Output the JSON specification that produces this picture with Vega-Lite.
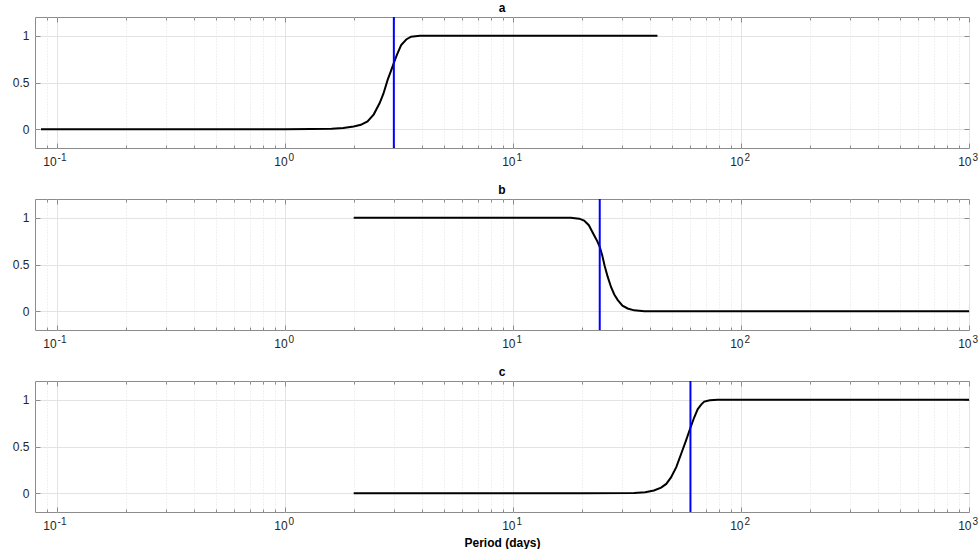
{
  "$schema": "https://vega.github.io/schema/vega-lite/v6.json",
  "padding": {"left": 11, "top": 1, "right": 0, "bottom": 0},
  "background": "white",
  "datasets": {
    "curves": [
      {"panel": "a", "period": 0.085, "value": 0},
      {"panel": "a", "period": 0.5, "value": 0},
      {"panel": "a", "period": 1.0, "value": 0},
      {"panel": "a", "period": 1.3, "value": 0.002},
      {"panel": "a", "period": 1.6, "value": 0.006},
      {"panel": "a", "period": 1.8, "value": 0.013},
      {"panel": "a", "period": 2.0, "value": 0.03},
      {"panel": "a", "period": 2.15, "value": 0.048},
      {"panel": "a", "period": 2.3, "value": 0.085},
      {"panel": "a", "period": 2.45, "value": 0.16},
      {"panel": "a", "period": 2.6, "value": 0.28},
      {"panel": "a", "period": 2.7, "value": 0.38},
      {"panel": "a", "period": 2.82, "value": 0.53},
      {"panel": "a", "period": 2.92, "value": 0.63},
      {"panel": "a", "period": 3.0, "value": 0.71},
      {"panel": "a", "period": 3.1, "value": 0.8},
      {"panel": "a", "period": 3.23, "value": 0.9},
      {"panel": "a", "period": 3.4, "value": 0.96},
      {"panel": "a", "period": 3.57, "value": 0.99},
      {"panel": "a", "period": 3.9, "value": 1.0},
      {"panel": "a", "period": 4.5, "value": 1.0},
      {"panel": "a", "period": 43, "value": 1.0},
      {"panel": "b", "period": 2.0, "value": 1},
      {"panel": "b", "period": 10, "value": 1},
      {"panel": "b", "period": 17.9, "value": 1},
      {"panel": "b", "period": 19.5, "value": 0.99},
      {"panel": "b", "period": 20.5, "value": 0.97},
      {"panel": "b", "period": 21.5, "value": 0.92},
      {"panel": "b", "period": 22.7, "value": 0.81},
      {"panel": "b", "period": 23.4, "value": 0.75},
      {"panel": "b", "period": 24.0, "value": 0.69},
      {"panel": "b", "period": 24.6, "value": 0.6},
      {"panel": "b", "period": 25.2, "value": 0.49},
      {"panel": "b", "period": 26.0, "value": 0.37},
      {"panel": "b", "period": 26.9, "value": 0.26},
      {"panel": "b", "period": 27.8, "value": 0.18},
      {"panel": "b", "period": 28.8, "value": 0.12},
      {"panel": "b", "period": 30.2, "value": 0.06},
      {"panel": "b", "period": 31.8, "value": 0.03},
      {"panel": "b", "period": 34, "value": 0.01},
      {"panel": "b", "period": 37.7, "value": 0},
      {"panel": "b", "period": 100, "value": 0},
      {"panel": "b", "period": 1000, "value": 0},
      {"panel": "c", "period": 2.0, "value": 0},
      {"panel": "c", "period": 20, "value": 0},
      {"panel": "c", "period": 34, "value": 0.003},
      {"panel": "c", "period": 38, "value": 0.01},
      {"panel": "c", "period": 41.5, "value": 0.03},
      {"panel": "c", "period": 44.6, "value": 0.06},
      {"panel": "c", "period": 47, "value": 0.1},
      {"panel": "c", "period": 49.3, "value": 0.17},
      {"panel": "c", "period": 52, "value": 0.28},
      {"panel": "c", "period": 54.6, "value": 0.42},
      {"panel": "c", "period": 57.3, "value": 0.56},
      {"panel": "c", "period": 60, "value": 0.7},
      {"panel": "c", "period": 62.3, "value": 0.81},
      {"panel": "c", "period": 64.6, "value": 0.9},
      {"panel": "c", "period": 67, "value": 0.95},
      {"panel": "c", "period": 69, "value": 0.98},
      {"panel": "c", "period": 73, "value": 0.995},
      {"panel": "c", "period": 79, "value": 1},
      {"panel": "c", "period": 200, "value": 1},
      {"panel": "c", "period": 1000, "value": 1}
    ],
    "thresholds": [
      {"panel": "a", "period": 3.0},
      {"panel": "b", "period": 24.0},
      {"panel": "c", "period": 60.0}
    ]
  },
  "vconcat": [
    {
      "width": 934, "height": 131,
      "title": {"text": "a"},
      "layer": [
        {
          "data": {"name": "curves"},
          "transform": [{"filter": "datum.panel === 'a'"}],
          "mark": {"type": "line", "color": "black", "strokeWidth": 2},
          "encoding": {
            "x": {"field": "period", "type": "quantitative", "scale": {"type": "log", "domain": [0.08, 1000], "nice": false},
              "axis": {"orient": "bottom", "title": null, "values": [0.09,0.1,0.2,0.3,0.4,0.5,0.6,0.7,0.8,0.9,1,2,3,4,5,6,7,8,9,10,20,30,40,50,60,70,80,90,100,200,300,400,500,600,700,800,900,1000],
                "labelExpr": "(datum.value==0.1||datum.value==1||datum.value==10||datum.value==100||datum.value==1000)?'10':''",
                "labelAlign": "right", "labelFontSize": 12, "labelBaseline": "top", "labelPadding": 13,
                "labelOffset": {"condition": {"test": "datum.value == 0.1", "value": -1}, "value": 2},
                "grid": true,
                "gridDash": {"condition": {"test": "abs(log(datum.value)/LN10 - round(log(datum.value)/LN10)) < 0.001", "value": []}, "value": [1, 2]},
                "tickSize": {"condition": {"test": "abs(log(datum.value)/LN10 - round(log(datum.value)/LN10)) < 0.001", "value": -5}, "value": -3}}},
            "y": {"field": "value", "type": "quantitative", "scale": {"domain": [-0.2, 1.2], "nice": false},
              "axis": {"orient": "left", "title": null, "values": [0, 0.5, 1], "format": "~g", "grid": true, "labelPadding": 11}}
          }
        },
        {
          "data": {"name": "thresholds"},
          "transform": [{"filter": "datum.panel === 'a'"}],
          "mark": {"type": "rule", "color": "#0000ff", "strokeWidth": 2},
          "encoding": {
            "x": {"field": "period", "type": "quantitative", "scale": {"type": "log", "domain": [0.08, 1000], "nice": false},
              "axis": {"orient": "top", "title": null, "labels": false, "grid": false, "values": [0.09,0.1,0.2,0.3,0.4,0.5,0.6,0.7,0.8,0.9,1,2,3,4,5,6,7,8,9,10,20,30,40,50,60,70,80,90,100,200,300,400,500,600,700,800,900,1000],
                "tickSize": {"condition": {"test": "abs(log(datum.value)/LN10 - round(log(datum.value)/LN10)) < 0.001", "value": -5}, "value": -3}}}
          }
        },
        {
          "data": {"name": "curves"},
          "transform": [{"filter": "datum.panel === 'a'"}],
          "mark": {"type": "line", "opacity": 0},
          "encoding": {
            "x": {"field": "period", "type": "quantitative",
              "axis": {"orient": "bottom", "title": null, "ticks": false, "grid": false, "values": [0.1, 1, 10, 100, 1000],
                "labelExpr": "datum.value==0.1?'-1':datum.value==1?'0':datum.value==10?'1':datum.value==100?'2':'3'",
                "labelAlign": "left", "labelFontSize": 10, "labelBaseline": "top", "labelPadding": 4.5,
                "labelOffset": {"condition": {"test": "datum.value == 0.1", "value": 0}, "value": 3}}},
            "y": {"field": "value", "type": "quantitative", "axis": {"orient": "right", "title": null, "labels": false, "grid": false, "values": [0, 0.5, 1]}}
          }
        }
      ],
      "resolve": {"axis": {"x": "independent", "y": "independent"}}
    },
    {
      "width": 934, "height": 131,
      "title": {"text": "b"},
      "layer": [
        {
          "data": {"name": "curves"},
          "transform": [{"filter": "datum.panel === 'b'"}],
          "mark": {"type": "line", "color": "black", "strokeWidth": 2},
          "encoding": {
            "x": {"field": "period", "type": "quantitative", "scale": {"type": "log", "domain": [0.08, 1000], "nice": false},
              "axis": {"orient": "bottom", "title": null, "values": [0.09,0.1,0.2,0.3,0.4,0.5,0.6,0.7,0.8,0.9,1,2,3,4,5,6,7,8,9,10,20,30,40,50,60,70,80,90,100,200,300,400,500,600,700,800,900,1000],
                "labelExpr": "(datum.value==0.1||datum.value==1||datum.value==10||datum.value==100||datum.value==1000)?'10':''",
                "labelAlign": "right", "labelFontSize": 12, "labelBaseline": "top", "labelPadding": 13,
                "labelOffset": {"condition": {"test": "datum.value == 0.1", "value": -1}, "value": 2},
                "grid": true,
                "gridDash": {"condition": {"test": "abs(log(datum.value)/LN10 - round(log(datum.value)/LN10)) < 0.001", "value": []}, "value": [1, 2]},
                "tickSize": {"condition": {"test": "abs(log(datum.value)/LN10 - round(log(datum.value)/LN10)) < 0.001", "value": -5}, "value": -3}}},
            "y": {"field": "value", "type": "quantitative", "scale": {"domain": [-0.2, 1.2], "nice": false},
              "axis": {"orient": "left", "title": null, "values": [0, 0.5, 1], "format": "~g", "grid": true, "labelPadding": 11}}
          }
        },
        {
          "data": {"name": "thresholds"},
          "transform": [{"filter": "datum.panel === 'b'"}],
          "mark": {"type": "rule", "color": "#0000ff", "strokeWidth": 2},
          "encoding": {
            "x": {"field": "period", "type": "quantitative", "scale": {"type": "log", "domain": [0.08, 1000], "nice": false},
              "axis": {"orient": "top", "title": null, "labels": false, "grid": false, "values": [0.09,0.1,0.2,0.3,0.4,0.5,0.6,0.7,0.8,0.9,1,2,3,4,5,6,7,8,9,10,20,30,40,50,60,70,80,90,100,200,300,400,500,600,700,800,900,1000],
                "tickSize": {"condition": {"test": "abs(log(datum.value)/LN10 - round(log(datum.value)/LN10)) < 0.001", "value": -5}, "value": -3}}}
          }
        },
        {
          "data": {"name": "curves"},
          "transform": [{"filter": "datum.panel === 'b'"}],
          "mark": {"type": "line", "opacity": 0},
          "encoding": {
            "x": {"field": "period", "type": "quantitative",
              "axis": {"orient": "bottom", "title": null, "ticks": false, "grid": false, "values": [0.1, 1, 10, 100, 1000],
                "labelExpr": "datum.value==0.1?'-1':datum.value==1?'0':datum.value==10?'1':datum.value==100?'2':'3'",
                "labelAlign": "left", "labelFontSize": 10, "labelBaseline": "top", "labelPadding": 4.5,
                "labelOffset": {"condition": {"test": "datum.value == 0.1", "value": 0}, "value": 3}}},
            "y": {"field": "value", "type": "quantitative", "axis": {"orient": "right", "title": null, "labels": false, "grid": false, "values": [0, 0.5, 1]}}
          }
        }
      ],
      "resolve": {"axis": {"x": "independent", "y": "independent"}}
    },
    {
      "width": 934, "height": 131,
      "title": {"text": "c"},
      "layer": [
        {
          "data": {"name": "curves"},
          "transform": [{"filter": "datum.panel === 'c'"}],
          "mark": {"type": "line", "color": "black", "strokeWidth": 2},
          "encoding": {
            "x": {"field": "period", "type": "quantitative", "scale": {"type": "log", "domain": [0.08, 1000], "nice": false},
              "axis": {"orient": "bottom", "title": "Period (days)", "titlePadding": 4, "values": [0.09,0.1,0.2,0.3,0.4,0.5,0.6,0.7,0.8,0.9,1,2,3,4,5,6,7,8,9,10,20,30,40,50,60,70,80,90,100,200,300,400,500,600,700,800,900,1000],
                "labelExpr": "(datum.value==0.1||datum.value==1||datum.value==10||datum.value==100||datum.value==1000)?'10':''",
                "labelAlign": "right", "labelFontSize": 12, "labelBaseline": "top", "labelPadding": 13,
                "labelOffset": {"condition": {"test": "datum.value == 0.1", "value": -1}, "value": 2},
                "grid": true,
                "gridDash": {"condition": {"test": "abs(log(datum.value)/LN10 - round(log(datum.value)/LN10)) < 0.001", "value": []}, "value": [1, 2]},
                "tickSize": {"condition": {"test": "abs(log(datum.value)/LN10 - round(log(datum.value)/LN10)) < 0.001", "value": -5}, "value": -3}}},
            "y": {"field": "value", "type": "quantitative", "scale": {"domain": [-0.2, 1.2], "nice": false},
              "axis": {"orient": "left", "title": null, "values": [0, 0.5, 1], "format": "~g", "grid": true, "labelPadding": 11}}
          }
        },
        {
          "data": {"name": "thresholds"},
          "transform": [{"filter": "datum.panel === 'c'"}],
          "mark": {"type": "rule", "color": "#0000ff", "strokeWidth": 2},
          "encoding": {
            "x": {"field": "period", "type": "quantitative", "scale": {"type": "log", "domain": [0.08, 1000], "nice": false},
              "axis": {"orient": "top", "title": null, "labels": false, "grid": false, "values": [0.09,0.1,0.2,0.3,0.4,0.5,0.6,0.7,0.8,0.9,1,2,3,4,5,6,7,8,9,10,20,30,40,50,60,70,80,90,100,200,300,400,500,600,700,800,900,1000],
                "tickSize": {"condition": {"test": "abs(log(datum.value)/LN10 - round(log(datum.value)/LN10)) < 0.001", "value": -5}, "value": -3}}}
          }
        },
        {
          "data": {"name": "curves"},
          "transform": [{"filter": "datum.panel === 'c'"}],
          "mark": {"type": "line", "opacity": 0},
          "encoding": {
            "x": {"field": "period", "type": "quantitative",
              "axis": {"orient": "bottom", "title": null, "ticks": false, "grid": false, "values": [0.1, 1, 10, 100, 1000],
                "labelExpr": "datum.value==0.1?'-1':datum.value==1?'0':datum.value==10?'1':datum.value==100?'2':'3'",
                "labelAlign": "left", "labelFontSize": 10, "labelBaseline": "top", "labelPadding": 4.5,
                "labelOffset": {"condition": {"test": "datum.value == 0.1", "value": 0}, "value": 3}}},
            "y": {"field": "value", "type": "quantitative", "axis": {"orient": "right", "title": null, "labels": false, "grid": false, "values": [0, 0.5, 1]}}
          }
        }
      ],
      "resolve": {"axis": {"x": "independent", "y": "independent"}}
    }
  ],
  "spacing": 51,
  "bounds": "flush",
  "config": {
    "font": "Liberation Sans",
    "view": {"stroke": "#8c8c8c", "strokeWidth": 1},
    "axis": {
      "domain": false,
      "tickColor": "#8c8c8c",
      "tickSize": -5,
      "labelFont": "Liberation Sans",
      "labelFontSize": 12,
      "labelColor": "#262626",
      "labelOverlap": false,
      "labelFlush": false,
      "labelPadding": 6,
      "gridColor": "#e3e3e3",
      "gridWidth": 1,
      "titleFont": "Liberation Sans",
      "titleFontSize": 12,
      "titleFontWeight": "bold",
      "titleColor": "#000000",
      "titlePadding": 2
    },
    "title": {"font": "Liberation Sans", "fontSize": 12, "fontWeight": "bold", "color": "#000000", "offset": 1}
  }
}
